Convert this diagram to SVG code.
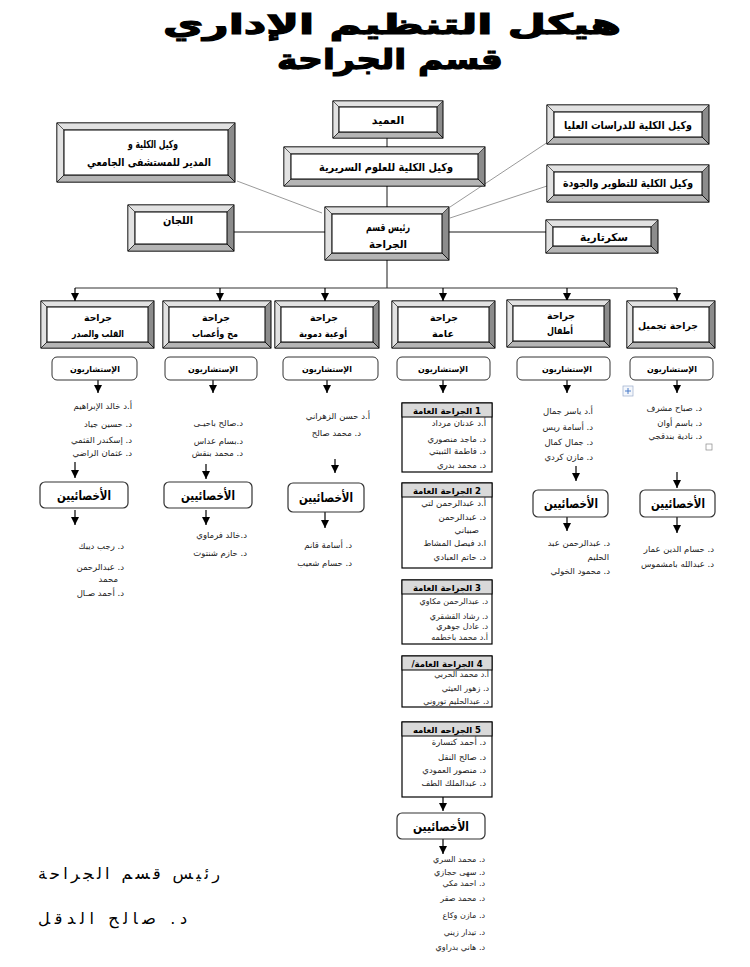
<svg xmlns="http://www.w3.org/2000/svg" width="750" height="967" viewBox="0 0 750 967">
<style>
text{font-family:"DejaVu Sans",sans-serif;fill:#000}
.t{font-size:28px;font-weight:bold;stroke:#000;stroke-width:1.2px;text-anchor:middle}
.bo{fill:#8c8c8c;stroke:#000;stroke-width:1}
.bl{fill:#e2e2e2;stroke:#000;stroke-width:0.6}
.bb{fill:#b5b5b5;stroke:#000;stroke-width:0.6}
.bd{stroke:#000;stroke-width:0.6;fill:none}
.bi{fill:#fff;stroke:#000;stroke-width:1}
.lb{font-size:11px;font-weight:bold;text-anchor:middle}
.dl{font-size:9.5px;font-weight:bold;text-anchor:middle}
.cb{fill:#fff;stroke:#333;stroke-width:1}
.ct{font-size:8.5px;font-weight:bold;text-anchor:middle}
.sb{fill:#fff;stroke:#333;stroke-width:1.2}
.st{font-size:13px;font-weight:bold;text-anchor:middle}
.n{font-size:8.5px;text-anchor:end;fill:#222}
.ns{font-size:8px;text-anchor:end;fill:#222}
.gb{fill:#fff;stroke:#000;stroke-width:1.2}
.gh{fill:#d9d9d9;stroke:#000;stroke-width:1}
.ght{font-size:8.5px;font-weight:bold;text-anchor:middle;direction:rtl}
.ln{stroke:#666;stroke-width:1.5;fill:none}
.lg{stroke:#9a9a9a;stroke-width:1;fill:none}
.la{stroke:#000;stroke-width:1.2;fill:none;marker-end:url(#arr)}
.sig{font-size:16px;text-anchor:start;fill:#000}
</style>
<defs>
<marker id="arr" viewBox="0 0 8 8" refX="8" refY="4" markerWidth="8" markerHeight="8" markerUnits="userSpaceOnUse" orient="auto">
<path d="M0,0 L8,4 L0,8 Z" fill="#000"/>
</marker>
</defs>
<rect width="750" height="967" fill="#fff"/>

<g id="title">
<text class="t" x="392" y="34" textLength="458" lengthAdjust="spacingAndGlyphs">هيكل التنظيم الإداري</text>
<text class="t" x="390" y="69" textLength="226" lengthAdjust="spacingAndGlyphs">قسم الجراحة</text>
</g>

<g id="connectors">
<path class="ln" d="M387 138V147"/>
<path class="ln" d="M387 186V207"/>
<path class="lg" d="M237 181L322 213"/>
<path class="ln" d="M234 232H325"/>
<path class="lg" d="M548 142L450 207"/>
<path class="lg" d="M547 186L450 218"/>
<path class="ln" d="M449 232H546"/>
<path class="ln" d="M387 260V288"/>
<path stroke="#333" stroke-width="1.2" fill="none" d="M75 288H677"/>
<path class="la" d="M75 288V301"/>
<path class="la" d="M220 288V301"/>
<path class="la" d="M325 288V301"/>
<path class="la" d="M443 288V301"/>
<path class="la" d="M567 288V301"/>
<path class="la" d="M677 288V301"/>
<path class="la" d="M98 380V393"/>
<path class="la" d="M213 380V393"/>
<path class="la" d="M327 380V393"/>
<path class="la" d="M443 380V393"/>
<path class="la" d="M567 380V393"/>
<path class="la" d="M677 380V393"/>
<path class="la" d="M75 462V478"/>
<path class="la" d="M75 510V525"/>
<path class="la" d="M206 464V479"/>
<path class="la" d="M206 510V525"/>
<path class="la" d="M335 459V473"/>
<path class="la" d="M325 512V528"/>
<path class="la" d="M576 466V481"/>
<path class="la" d="M567 517V531"/>
<path class="la" d="M677 472V488"/>
<path class="la" d="M677 517V533"/>
<path class="la" d="M443 797V811"/>
<path class="la" d="M443 839V854"/>
</g>

<g id="dean">
<rect class="bo" x="333" y="101" width="110" height="37"/>
<polygon class="bl" points="333,101 443,101 437,107 339,107 339,132 333,138"/>
<polygon class="bb" points="333,138 339,132 437,132 443,138"/>
<path class="bd" d="M333 101l6 6M443 138l-6 -6"/>
<rect class="bi" x="339" y="107" width="98" height="25"/>
<text class="lb" x="388" y="124">العميد</text>
</g>

<g id="clinical">
<rect class="bo" x="284" y="147" width="201" height="39"/>
<polygon class="bl" points="284,147 485,147 478,154 291,154 291,179 284,186"/>
<polygon class="bb" points="284,186 291,179 478,179 485,186"/>
<path class="bd" d="M284 147l7 7M485 186l-7 -7"/>
<rect class="bi" x="291" y="154" width="187" height="25"/>
<text class="lb" x="386" y="171" textLength="134" lengthAdjust="spacingAndGlyphs">وكيل الكلية للعلوم السريرية</text>
</g>

<g id="hospital">
<rect class="bo" x="57" y="123" width="178" height="59"/>
<polygon class="bl" points="57,123 235,123 228,130 64,130 64,175 57,182"/>
<polygon class="bb" points="57,182 64,175 228,175 235,182"/>
<path class="bd" d="M57 123l7 7M235 182l-7 -7"/>
<rect class="bi" x="64" y="130" width="164" height="45"/>
<text class="lb" x="153" y="148" textLength="50" lengthAdjust="spacingAndGlyphs">وكيل الكلية و</text>
<text class="lb" x="149" y="166" textLength="124" lengthAdjust="spacingAndGlyphs">المدير للمستشفى الجامعي</text>
</g>

<g id="grad">
<rect class="bo" x="547" y="105" width="162" height="39"/>
<polygon class="bl" points="547,105 709,105 702,112 554,112 554,137 547,144"/>
<polygon class="bb" points="547,144 554,137 702,137 709,144"/>
<path class="bd" d="M547 105l7 7M709 144l-7 -7"/>
<rect class="bi" x="554" y="112" width="148" height="25"/>
<text class="lb" x="628" y="129" textLength="128" lengthAdjust="spacingAndGlyphs">وكيل الكلية للدراسات العليا</text>
</g>

<g id="quality">
<rect class="bo" x="547" y="165" width="162" height="37"/>
<polygon class="bl" points="547,165 709,165 702,172 554,172 554,195 547,202"/>
<polygon class="bb" points="547,202 554,195 702,195 709,202"/>
<path class="bd" d="M547 165l7 7M709 202l-7 -7"/>
<rect class="bi" x="554" y="172" width="148" height="23"/>
<text class="lb" x="628" y="187" textLength="130" lengthAdjust="spacingAndGlyphs">وكيل الكلية للتطوير والجودة</text>
</g>

<g id="committees">
<rect class="bo" x="128" y="205" width="106" height="46"/>
<polygon class="bl" points="128,205 234,205 227,212 135,212 135,244 128,251"/>
<polygon class="bb" points="128,251 135,244 227,244 234,251"/>
<path class="bd" d="M128 205l7 7M234 251l-7 -7"/>
<rect class="bi" x="135" y="212" width="92" height="32"/>
<text class="lb" x="178" y="224" textLength="30" lengthAdjust="spacingAndGlyphs">اللجان</text>
</g>

<g id="head">
<rect class="bo" x="325" y="207" width="124" height="53"/>
<polygon class="bl" points="325,207 449,207 442,214 332,214 332,253 325,260"/>
<polygon class="bb" points="325,260 332,253 442,253 449,260"/>
<path class="bd" d="M325 207l7 7M449 260l-7 -7"/>
<rect class="bi" x="332" y="214" width="110" height="39"/>
<text class="lb" x="388" y="231" textLength="44" lengthAdjust="spacingAndGlyphs">رئيس قسم</text>
<text class="lb" x="388" y="248" textLength="38" lengthAdjust="spacingAndGlyphs">الجراحة</text>
</g>

<g id="secretary">
<rect class="bo" x="546" y="220" width="112" height="33"/>
<polygon class="bl" points="546,220 658,220 651,227 553,227 553,246 546,253"/>
<polygon class="bb" points="546,253 553,246 651,246 658,253"/>
<path class="bd" d="M546 220l7 7M658 253l-7 -7"/>
<rect class="bi" x="553" y="227" width="98" height="19"/>
<text class="lb" x="604" y="241" textLength="48" lengthAdjust="spacingAndGlyphs">سكرتارية</text>
</g>

<g id="dept-heart">
<rect class="bo" x="41" y="301" width="113" height="47"/>
<polygon class="bl" points="41,301 154,301 148,307 47,307 47,342 41,348"/>
<polygon class="bb" points="41,348 47,342 148,342 154,348"/>
<path class="bd" d="M41 301l6 6M154 348l-6 -6"/>
<rect class="bi" x="47" y="307" width="101" height="35"/>
<text class="dl" x="98" y="321" textLength="28" lengthAdjust="spacingAndGlyphs">جراحة</text>
<text class="dl" x="98" y="337" textLength="52" lengthAdjust="spacingAndGlyphs">القلب والصدر</text>
</g>
<g id="dept-neuro">
<rect class="bo" x="163" y="301" width="108" height="47"/>
<polygon class="bl" points="163,301 271,301 265,307 169,307 169,342 163,348"/>
<polygon class="bb" points="163,348 169,342 265,342 271,348"/>
<path class="bd" d="M163 301l6 6M271 348l-6 -6"/>
<rect class="bi" x="169" y="307" width="96" height="35"/>
<text class="dl" x="216" y="321" textLength="28" lengthAdjust="spacingAndGlyphs">جراحة</text>
<text class="dl" x="215" y="337" textLength="46" lengthAdjust="spacingAndGlyphs">مخ وأعصاب</text>
</g>
<g id="dept-vascular">
<rect class="bo" x="275" y="301" width="104" height="47"/>
<polygon class="bl" points="275,301 379,301 373,307 281,307 281,342 275,348"/>
<polygon class="bb" points="275,348 281,342 373,342 379,348"/>
<path class="bd" d="M275 301l6 6M379 348l-6 -6"/>
<rect class="bi" x="281" y="307" width="92" height="35"/>
<text class="dl" x="324" y="321" textLength="28" lengthAdjust="spacingAndGlyphs">جراحة</text>
<text class="dl" x="323" y="337" textLength="48" lengthAdjust="spacingAndGlyphs">أوعية دموية</text>
</g>
<g id="dept-general">
<rect class="bo" x="392" y="301" width="103" height="47"/>
<polygon class="bl" points="392,301 495,301 489,307 398,307 398,342 392,348"/>
<polygon class="bb" points="392,348 398,342 489,342 495,348"/>
<path class="bd" d="M392 301l6 6M495 348l-6 -6"/>
<rect class="bi" x="398" y="307" width="91" height="35"/>
<text class="dl" x="444" y="321" textLength="28" lengthAdjust="spacingAndGlyphs">جراحة</text>
<text class="dl" x="443" y="337" textLength="22" lengthAdjust="spacingAndGlyphs">عامة</text>
</g>
<g id="dept-peds">
<rect class="bo" x="507" y="300" width="103" height="47"/>
<polygon class="bl" points="507,300 610,300 604,306 513,306 513,341 507,347"/>
<polygon class="bb" points="507,347 513,341 604,341 610,347"/>
<path class="bd" d="M507 300l6 6M610 347l-6 -6"/>
<rect class="bi" x="513" y="306" width="91" height="35"/>
<text class="dl" x="561" y="319" textLength="28" lengthAdjust="spacingAndGlyphs">جراحة</text>
<text class="dl" x="560" y="334" textLength="26" lengthAdjust="spacingAndGlyphs">أطفال</text>
</g>
<g id="dept-plastic">
<rect class="bo" x="627" y="301" width="88" height="47"/>
<polygon class="bl" points="627,301 715,301 709,307 633,307 633,342 627,348"/>
<polygon class="bb" points="627,348 633,342 709,342 715,348"/>
<path class="bd" d="M627 301l6 6M715 348l-6 -6"/>
<rect class="bi" x="633" y="307" width="76" height="35"/>
<text class="dl" x="668" y="329" textLength="60" lengthAdjust="spacingAndGlyphs">جراحة تجميل</text>
</g>

<g id="consultants">
<rect class="cb" x="52" y="357" width="85" height="23" rx="5"/>
<text class="ct" x="95" y="372" textLength="50" lengthAdjust="spacingAndGlyphs">الإستشاريون</text>
<rect class="cb" x="165" y="357" width="92" height="23" rx="5"/>
<text class="ct" x="213" y="372" textLength="50" lengthAdjust="spacingAndGlyphs">الإستشاريون</text>
<rect class="cb" x="283" y="357" width="95" height="23" rx="5"/>
<text class="ct" x="327" y="372" textLength="50" lengthAdjust="spacingAndGlyphs">الإستشاريون</text>
<rect class="cb" x="397" y="357" width="93" height="23" rx="5"/>
<text class="ct" x="443" y="372" textLength="50" lengthAdjust="spacingAndGlyphs">الإستشاريون</text>
<rect class="cb" x="517" y="357" width="93" height="23" rx="5"/>
<text class="ct" x="567" y="372" textLength="50" lengthAdjust="spacingAndGlyphs">الإستشاريون</text>
<rect class="cb" x="630" y="357" width="83" height="23" rx="5"/>
<text class="ct" x="672" y="372" textLength="50" lengthAdjust="spacingAndGlyphs">الإستشاريون</text>
</g>

<g id="col-heart">
<text class="n" x="132" y="409">أ.د خالد الإبراهيم</text>
<text class="n" x="132" y="427">د. حسين جياد</text>
<text class="n" x="132" y="443">د. إسكندر القثمي</text>
<text class="n" x="132" y="456">د. عثمان الراضي</text>
<rect class="sb" x="40" y="482" width="88" height="26" rx="5"/>
<text class="st" x="84" y="500" textLength="54" lengthAdjust="spacingAndGlyphs">الأخصائيين</text>
<text class="n" x="124" y="549">د. رجب ديبك</text>
<text class="n" x="124" y="570">د. عبدالرحمن</text>
<text class="n" x="118" y="582">محمد</text>
<text class="n" x="124" y="596">د. أحمد صـال</text>
</g>

<g id="col-neuro">
<text class="n" x="243" y="426">د.صالح باحيـى</text>
<text class="n" x="243" y="444">د.بسام عداس</text>
<text class="n" x="243" y="456">د. محمد بنقش</text>
<rect class="sb" x="164" y="482" width="88" height="26" rx="5"/>
<text class="st" x="208" y="500" textLength="54" lengthAdjust="spacingAndGlyphs">الأخصائيين</text>
<text class="n" x="247" y="538">د.خالد فرماوي</text>
<text class="n" x="247" y="556">د. حازم شنتوت</text>
</g>

<g id="col-vascular">
<text class="n" x="370" y="419">أ.د حسن الزهراني</text>
<text class="n" x="361" y="436">د. محمد صالح</text>
<rect class="sb" x="288" y="483" width="76" height="29" rx="5"/>
<text class="st" x="326" y="502" textLength="54" lengthAdjust="spacingAndGlyphs">الأخصائيين</text>
<text class="n" x="352" y="548">د. أسامة قانم</text>
<text class="n" x="352" y="566">د. حسام شعيب</text>
</g>

<g id="col-general">
<rect class="gb" x="402" y="403" width="90" height="69"/>
<rect class="gh" x="402" y="403" width="90" height="14"/>
<text class="ght" x="447" y="413.5">1 الجراحة العامة</text>
<text class="n" x="486" y="426">أ.د عدنان مرداد</text>
<text class="n" x="486" y="442">د. ماجد منصوري</text>
<text class="n" x="486" y="454">د. فاطمة الثبيتي</text>
<text class="n" x="486" y="468">د. محمد بدري</text>

<rect class="gb" x="402" y="483" width="90" height="85"/>
<rect class="gh" x="402" y="483" width="90" height="14"/>
<text class="ght" x="447" y="493.5">2 الجراحة العامة</text>
<text class="n" x="486" y="506">أ.د عبدالرحمن لتي</text>
<text class="n" x="486" y="520">د. عبدالرحمن</text>
<text class="n" x="479" y="533">صبياني</text>
<text class="n" x="486" y="546">ا.د فيصل المشاط</text>
<text class="n" x="486" y="560">د. حاتم العبادي</text>

<rect class="gb" x="402" y="580" width="90" height="64"/>
<rect class="gh" x="402" y="580" width="90" height="14"/>
<text class="ght" x="447" y="590.5">3 الجراحة العامة</text>
<text class="ns" x="488" y="604">د. عبدالرحمن مكاوي</text>
<text class="ns" x="488" y="619">د. رشاد القشقري</text>
<text class="ns" x="488" y="629">د. عادل جوهري</text>
<text class="ns" x="488" y="640">أ.د محمد باخطمه</text>

<rect class="gb" x="402" y="656" width="90" height="51"/>
<rect class="gh" x="402" y="656" width="90" height="14"/>
<text class="ght" x="447" y="666.5">4 الجراحة العامة/</text>
<text class="ns" x="489" y="677">أ.د محمد الحربي</text>
<text class="ns" x="489" y="691">د. زهور العيثي</text>
<text class="ns" x="489" y="704">د. عبدالحليم توروني</text>

<rect class="gb" x="402" y="722" width="90" height="75"/>
<rect class="gh" x="402" y="722" width="90" height="14"/>
<text class="ght" x="447" y="732.5">5 الجراحه العامه</text>
<text class="n" x="486" y="745">د. أحمد كتسارة</text>
<text class="n" x="486" y="760">د. صالح النقل</text>
<text class="n" x="486" y="773">د. منصور العمودي</text>
<text class="n" x="486" y="786">د. عبدالملك الطف</text>

<rect class="sb" x="397" y="813" width="88" height="26" rx="5"/>
<text class="st" x="441" y="831" textLength="56" lengthAdjust="spacingAndGlyphs">الأخصائيين</text>
<text class="ns" x="485" y="862">د. محمد السري</text>
<text class="ns" x="485" y="875">د. سهى حجازي</text>
<text class="ns" x="485" y="886">د. احمد مكي</text>
<text class="ns" x="485" y="901">د. محمد صقر</text>
<text class="ns" x="485" y="918">د. مازن وكاع</text>
<text class="ns" x="485" y="935">د. تيدار زيني</text>
<text class="ns" x="485" y="950">د. هاني بدراوي</text>
</g>

<g id="col-peds">
<text class="n" x="593" y="414">أ.د ياسر جمال</text>
<text class="n" x="593" y="430">د. أسامة ريس</text>
<text class="n" x="593" y="445">د. جمال كمال</text>
<text class="n" x="593" y="460">د. مازن كردي</text>
<rect class="sb" x="533" y="490" width="75" height="27" rx="5"/>
<text class="st" x="571" y="508" textLength="54" lengthAdjust="spacingAndGlyphs">الأخصائيين</text>
<text class="n" x="610" y="546">د. عبدالرحمن عبد</text>
<text class="n" x="609" y="560">الحليم</text>
<text class="n" x="610" y="574">د. محمود الخولي</text>
</g>

<g id="col-plastic">
<text class="n" x="702" y="411">د. صباح مشرف</text>
<text class="n" x="702" y="426">د. باسم أوان</text>
<text class="n" x="702" y="439">د. نادية بندقجي</text>
<rect class="sb" x="640" y="490" width="75" height="27" rx="5"/>
<text class="st" x="678" y="508" textLength="54" lengthAdjust="spacingAndGlyphs">الأخصائيين</text>
<text class="n" x="714" y="552">د. حسام الدين عمار</text>
<text class="n" x="714" y="567">د. عبدالله بامشموس</text>
</g>

<g id="handles">
<rect x="623" y="386" width="10" height="10" fill="#f4f7fc" stroke="#9aaccc" stroke-width="0.7"/>
<path d="M628 388V394M625 391H631" stroke="#3a6fc4" stroke-width="0.9"/>
<rect x="706" y="444" width="6" height="6" fill="#fff" stroke="#888" stroke-width="0.7"/>
</g>

<g id="signature">
<text class="sig" x="38" y="879" textLength="182" lengthAdjust="spacing">رئيس قسم الجراحة</text>
<text class="sig" x="38" y="924" textLength="149" lengthAdjust="spacing">د. صالح الدقل</text>
</g>
</svg>
